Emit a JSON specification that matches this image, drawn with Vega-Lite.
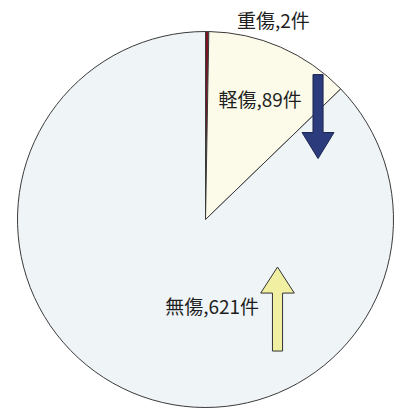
{
  "$schema": "https://vega.github.io/schema/vega-lite/v6.json",
  "autosize": {"type": "none"},
  "width": 377,
  "height": 377,
  "padding": {"left": 17, "top": 31, "right": 0, "bottom": 0},
  "background": "#ffffff",
  "config": {"view": {"stroke": null}},
  "datasets": {
    "slices": [
      {"category": "重傷", "count": 2, "rank": 1},
      {"category": "軽傷", "count": 89, "rank": 2},
      {"category": "無傷", "count": 621, "rank": 3}
    ],
    "labels": [
      {"label": "重傷,2件", "u": 0.36, "v": 1.05},
      {"label": "軽傷,89件", "u": 0.29, "v": 0.63},
      {"label": "無傷,621件", "u": 0.035, "v": -0.47}
    ],
    "arrows": [
      {"name": "down", "u": 0.597, "v": 0.546},
      {"name": "up", "u": 0.382, "v": -0.475}
    ]
  },
  "layer": [
    {
      "data": {"name": "slices"},
      "mark": {"type": "arc", "outerRadius": 188, "stroke": "#3a3a3a", "strokeWidth": 1},
      "encoding": {
        "theta": {"field": "count", "type": "quantitative", "stack": true},
        "order": {"field": "rank", "type": "quantitative"},
        "color": {
          "field": "category",
          "type": "nominal",
          "scale": {"domain": ["重傷", "軽傷", "無傷"], "range": ["#7a1424", "#fcfbea", "#eff4f7"]},
          "legend": null
        }
      }
    },
    {
      "data": {"name": "labels"},
      "mark": {"type": "text", "font": "Noto Sans CJK JP", "fontSize": 19, "color": "#1e1e1e", "align": "center", "baseline": "middle"},
      "encoding": {
        "x": {"field": "u", "type": "quantitative", "scale": {"domain": [-1, 1], "nice": false, "zero": false}, "axis": null},
        "y": {"field": "v", "type": "quantitative", "scale": {"domain": [-1, 1], "nice": false, "zero": false}, "axis": null},
        "text": {"field": "label", "type": "nominal"}
      }
    },
    {
      "data": {"name": "arrows"},
      "transform": [{"filter": "datum.name === 'down'"}],
      "mark": {
        "type": "point",
        "shape": "M-0.12,-1L0.12,-1L0.12,0.38L0.38,0.38L0,1L-0.38,0.38L-0.12,0.38Z",
        "filled": true,
        "fill": "#2b3b7c",
        "stroke": "#1c2550",
        "strokeWidth": 1,
        "opacity": 1,
        "size": 7056
      },
      "encoding": {
        "x": {"field": "u", "type": "quantitative"},
        "y": {"field": "v", "type": "quantitative"}
      }
    },
    {
      "data": {"name": "arrows"},
      "transform": [{"filter": "datum.name === 'up'"}],
      "mark": {
        "type": "point",
        "shape": "M-0.12,1L0.12,1L0.12,-0.38L0.4,-0.38L0,-1L-0.4,-0.38L-0.12,-0.38Z",
        "filled": true,
        "fill": "#f1f0a2",
        "stroke": "#333333",
        "strokeWidth": 1,
        "opacity": 1,
        "size": 7056
      },
      "encoding": {
        "x": {"field": "u", "type": "quantitative"},
        "y": {"field": "v", "type": "quantitative"}
      }
    }
  ]
}
